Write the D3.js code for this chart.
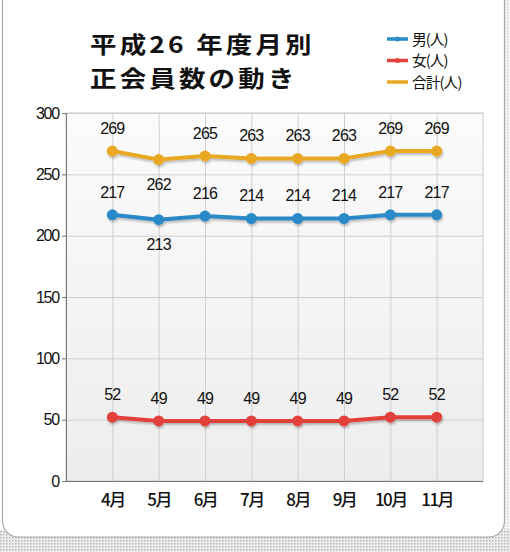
<!DOCTYPE html>
<html><head><meta charset="utf-8">
<script src="https://cdn.jsdelivr.net/npm/d3@7/dist/d3.min.js"></script>
<style>
html,body{margin:0;padding:0;background:#fff;}
svg{display:block;}
</style></head>
<body>
<svg id="chart" width="510" height="552"></svg>
<script>
const months = ["4月","5月","6月","7月","8月","9月","10月","11月"];
const male = [217,213,216,214,214,214,217,217];
const female = [52,49,49,49,49,49,52,52];
const total = [269,262,265,263,263,263,269,269];
const yTicks = [0,50,100,150,200,250,300];
const seriesNames = ["男(人)","女(人)","合計(人)"];
const seriesColors = ["#2b8ac8","#e2413c","#e9a823"];
const titleLines = ["平成26 年度月別","正会員数の動き"];

const svg = d3.select("#chart");
const defs = svg.append("defs");
const g1 = defs.append("linearGradient").attr("id","bg").attr("x1",0).attr("y1",0).attr("x2",0).attr("y2",1);
g1.append("stop").attr("offset","0%").attr("stop-color","#fbfbfb");
g1.append("stop").attr("offset","100%").attr("stop-color","#ededed");
const pat = defs.append("pattern").attr("id","dots").attr("width",3).attr("height",3).attr("patternUnits","userSpaceOnUse");
pat.append("rect").attr("width",3).attr("height",3).attr("fill","#ececec");
pat.append("rect").attr("width",1.5).attr("height",1.5).attr("fill","#b8b8b8");
const flt = defs.append("filter").attr("id","sh").attr("x","-10%").attr("y","-10%").attr("width","120%").attr("height","140%");
flt.append("feGaussianBlur").attr("in","SourceAlpha").attr("stdDeviation",1.2).attr("result","b");
flt.append("feOffset").attr("in","b").attr("dx",1).attr("dy",2).attr("result","o");
flt.append("feComponentTransfer").attr("in","o").attr("result","o2").append("feFuncA").attr("type","linear").attr("slope",0.25);
const fm = flt.append("feMerge");
fm.append("feMergeNode").attr("in","o2");
fm.append("feMergeNode").attr("in","SourceGraphic");

// background shadow strip + card
svg.append("rect").attr("x",0).attr("y",530).attr("width",510).attr("height",22).attr("fill","url(#dots)");
svg.append("rect").attr("x",502).attr("y",0).attr("width",8).attr("height",552).attr("fill","url(#dots)").attr("opacity",0.6);
svg.append("rect").attr("x",2.5).attr("y",-14).attr("width",502).attr("height",551).attr("rx",16)
  .attr("fill","#fff").attr("stroke","#a9a9a9").attr("stroke-width",1.2);

const margin = {left:66, right:483, top:113, bottom:481};
const x = d3.scalePoint().domain(months).range([margin.left, margin.right]).padding(1);
const y = d3.scaleLinear().domain([0,300]).range([margin.bottom, margin.top]);

// plot area
svg.append("rect").attr("x",margin.left).attr("y",margin.top)
  .attr("width",margin.right-margin.left).attr("height",margin.bottom-margin.top)
  .attr("fill","url(#bg)").attr("stroke","#c9c9c9");

// grid
svg.append("g").selectAll("line.h").data(yTicks.filter(d=>d>0)).join("line")
  .attr("x1",margin.left).attr("x2",margin.right).attr("y1",d=>y(d)+0.5).attr("y2",d=>y(d)+0.5)
  .attr("stroke","#cfcfcf");
svg.append("g").selectAll("line.v").data(months).join("line")
  .attr("x1",d=>x(d)+0.5).attr("x2",d=>x(d)+0.5).attr("y1",margin.top).attr("y2",margin.bottom)
  .attr("stroke","#cfcfcf");

// y axis
const yAxis = svg.append("g").attr("transform",`translate(${margin.left},0)`)
  .call(d3.axisLeft(y).tickValues(yTicks).tickSize(4).tickPadding(3));
yAxis.select(".domain").attr("stroke","#777");
yAxis.selectAll(".tick line").attr("stroke","#777");
yAxis.selectAll("text").attr("font-family","'Liberation Sans Narrow','Liberation Sans',Arial,sans-serif")
  .attr("font-size",16).attr("fill","#111").attr("letter-spacing",-1.2);
svg.append("line").attr("x1",margin.left).attr("x2",margin.right).attr("y1",margin.bottom+0.5).attr("y2",margin.bottom+0.5).attr("stroke","#777");

// x labels
const xAxis = svg.append("g").attr("transform",`translate(0,${margin.bottom})`)
  .call(d3.axisBottom(x).tickSize(0).tickPadding(13));
xAxis.select(".domain").remove();
xAxis.selectAll("text").attr("font-family","'Noto Sans CJK JP',sans-serif").attr("font-weight",500)
  .attr("font-size",17).attr("fill","#111").attr("letter-spacing",-1.5);

// series
const seriesData = [male, female, total];
const labelBelow = [[1],[],[1]];
const line = d3.line().x((d,i)=>x(months[i])).y(d=>y(d));
seriesData.forEach((vals,si)=>{
  const gs = svg.append("g").attr("filter","url(#sh)");
  gs.append("path").datum(vals).attr("d",line).attr("fill","none")
    .attr("stroke",seriesColors[si]).attr("stroke-width",4).attr("stroke-linejoin","round");
  gs.selectAll("circle").data(vals).join("circle")
    .attr("cx",(d,i)=>x(months[i])).attr("cy",d=>y(d)).attr("r",5.5).attr("fill",seriesColors[si]);
  svg.append("g").selectAll("text").data(vals).join("text")
    .attr("x",(d,i)=>x(months[i])).attr("y",(d,i)=>labelBelow[si].includes(i)? y(d)+30 : y(d)-17)
    .attr("text-anchor","middle")
    .attr("font-family","'Liberation Sans Narrow','Liberation Sans',Arial,sans-serif")
    .attr("font-size",16).attr("fill","#111").attr("letter-spacing",-0.8)
    .text(d=>d);
});

// title (horizontally stretched like the reference)
svg.append("g").attr("transform","translate(90,0) scale(1.15,1)")
  .selectAll("text").data(titleLines).join("text")
  .attr("x",0).attr("y",(d,i)=>53+i*33.6)
  .attr("font-family","'Noto Sans CJK JP',sans-serif").attr("font-weight","bold")
  .attr("font-size",23).attr("letter-spacing",2.8).attr("fill","#111")
  .text(d=>d);

// legend
const lg = svg.append("g");
seriesNames.forEach((n,i)=>{
  const cy = 39 + i*21.5;
  lg.append("line").attr("x1",387).attr("x2",408).attr("y1",cy).attr("y2",cy)
    .attr("stroke",seriesColors[i]).attr("stroke-width",3.5);
  if(i<2) lg.append("circle").attr("cx",397.5).attr("cy",cy).attr("r",2.5).attr("fill",seriesColors[i]);
  lg.append("text").attr("x",412).attr("y",cy+5.5).text(n)
    .attr("font-family","'Noto Sans CJK JP',sans-serif").attr("font-size",14.8)
    .attr("fill","#111").attr("letter-spacing",-1);
});
</script>
</body></html>
